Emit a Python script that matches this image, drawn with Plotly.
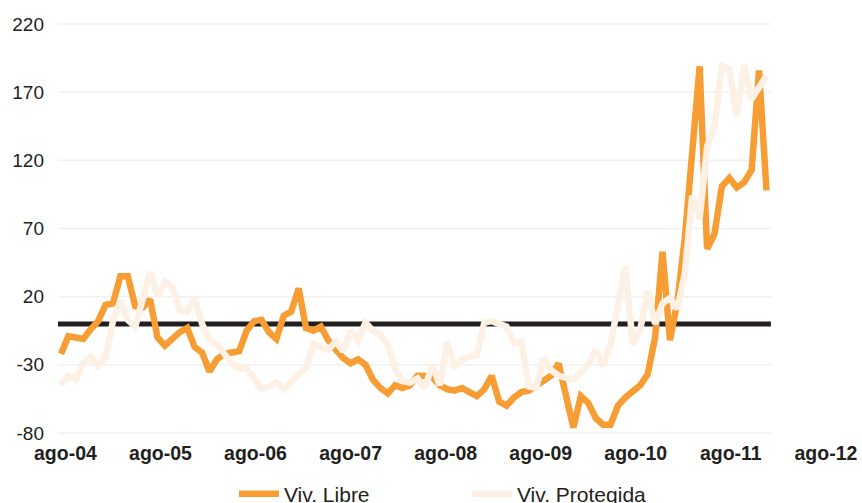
import plotly.graph_objects as go

# ---- data ----
viv_libre = [-22, -9, -10, -11, -4, 2, 14, 15, 35, 35,
             13, 12, 18, -10, -16, -11, -6, -3, -17, -21,
             -35, -26, -22, -21, -20, -5, 2, 3, -6, -11,
             6, 9, 26, -3, -5, -2, -12, -19, -25, -29,
             -26, -30, -41, -47, -51, -45, -47, -45, -38, -38,
             -39, -45, -48, -49, -47, -50, -53, -48, -38, -57,
             -60, -54, -50, -49, -45, -42, -38, -29, -52, -76,
             -53, -58, -69, -74, -74, -60, -54, -50, -45, -37,
             -10, 53, -12, 16, 63, 126, 189, 55, 66, 101,
             107, 100, 104, 113, 186, 98]

viv_protegida = [-45, -38, -41, -29, -24, -31, -25, 2, 17, 3,
                 -2, 20, 38, 20, 31, 27, 10, 9, 19, 0,
                 -12, -15, -22, -29, -33, -33, -40, -48, -46, -43,
                 -48, -42, -37, -32, -15, -17, -19, -13, -20, -5,
                 -12, 1, -5, -8, -15, -33, -42, -43, -40, -47,
                 -30, -45, -13, -32, -26, -24, -23, 1, 2, 0,
                 -2, -14, -13, -46, -47, -25, -34, -38, -40, -41,
                 -36, -30, -19, -31, -15, 13, 42, -15, -4, 24,
                 0, 15, 19, 11, 37, 94, 77, 130, 145, 189,
                 187, 153, 190, 165, 173, 182]

x_tick_labels = ["ago-04", "ago-05", "ago-06", "ago-07", "ago-08",
                 "ago-09", "ago-10", "ago-11", "ago-12"]
y_tick_values = [-80, -30, 20, 70, 120, 170, 220]

series_names = ["Viv. Libre", "Viv. Protegida"]

# ---- styling / layout constants ----
ORANGE = "#F89D33"
LIGHT = "#FDF1E6"
DARK = "#231F20"
GRID = "#F1F1F1"
FONT = "Liberation Sans, Arial, Helvetica, sans-serif"

LABEL_OFFSET = 0.6   # label placement along the index axis
LABEL_STEP = 12.8

n = len(viv_libre)
x = list(range(n))
x_start = -0.4
x_end_lines = n - 1 + 0.6
tick_pos = [LABEL_OFFSET + LABEL_STEP * k for k in range(len(x_tick_labels))]

fig = go.Figure()
fig.add_trace(go.Scatter(x=x, y=viv_libre, mode="lines", name=series_names[0],
                         line=dict(color=ORANGE, width=6.5, shape="linear"),
                         hoverinfo="skip"))
fig.add_trace(go.Scatter(x=x, y=viv_protegida, mode="lines", name=series_names[1],
                         line=dict(color=LIGHT, width=6.5, shape="linear"),
                         hoverinfo="skip"))

shapes = []
for v in y_tick_values:
    shapes.append(dict(type="line", xref="x", yref="y", x0=x_start, x1=x_end_lines,
                       y0=v, y1=v, line=dict(color=GRID, width=1.5), layer="below"))
shapes.append(dict(type="line", xref="x", yref="y", x0=x_start, x1=x_end_lines,
                   y0=0, y1=0, line=dict(color=DARK, width=5), layer="below"))

fig.update_layout(
    width=862, height=503,
    margin=dict(l=58, r=22, t=20, b=66, autoexpand=False),
    paper_bgcolor="white", plot_bgcolor="white",
    font=dict(family=FONT, color=DARK),
    shapes=shapes,
    showlegend=True,
    legend=dict(orientation="h", x=0.225, xanchor="left", y=-0.088, yanchor="top",
                font=dict(size=21, color=DARK, family=FONT),
                itemwidth=40,
                entrywidth=178, entrywidthmode="pixels",
                bgcolor="rgba(0,0,0,0)"),
    xaxis=dict(range=[x_start, 104.9], showgrid=False, zeroline=False,
               showline=False, ticks="", tickmode="array",
               tickvals=tick_pos, ticktext=x_tick_labels,
               tickfont=dict(size=19.5, color=DARK, family=FONT, weight="bold"),
               ticklabelstandoff=2, fixedrange=True),
    yaxis=dict(range=[-83, 223], showgrid=False, zeroline=False,
               showline=False, ticks="", tickmode="array",
               tickvals=y_tick_values, ticktext=[str(v) for v in y_tick_values],
               tickfont=dict(size=19, color=DARK, family=FONT),
               ticklabelstandoff=13, fixedrange=True),
)

fig.write_html("out.html", config={"displayModeBar": False},
               post_script="document.body.style.margin='0';document.body.style.overflow='hidden';")
